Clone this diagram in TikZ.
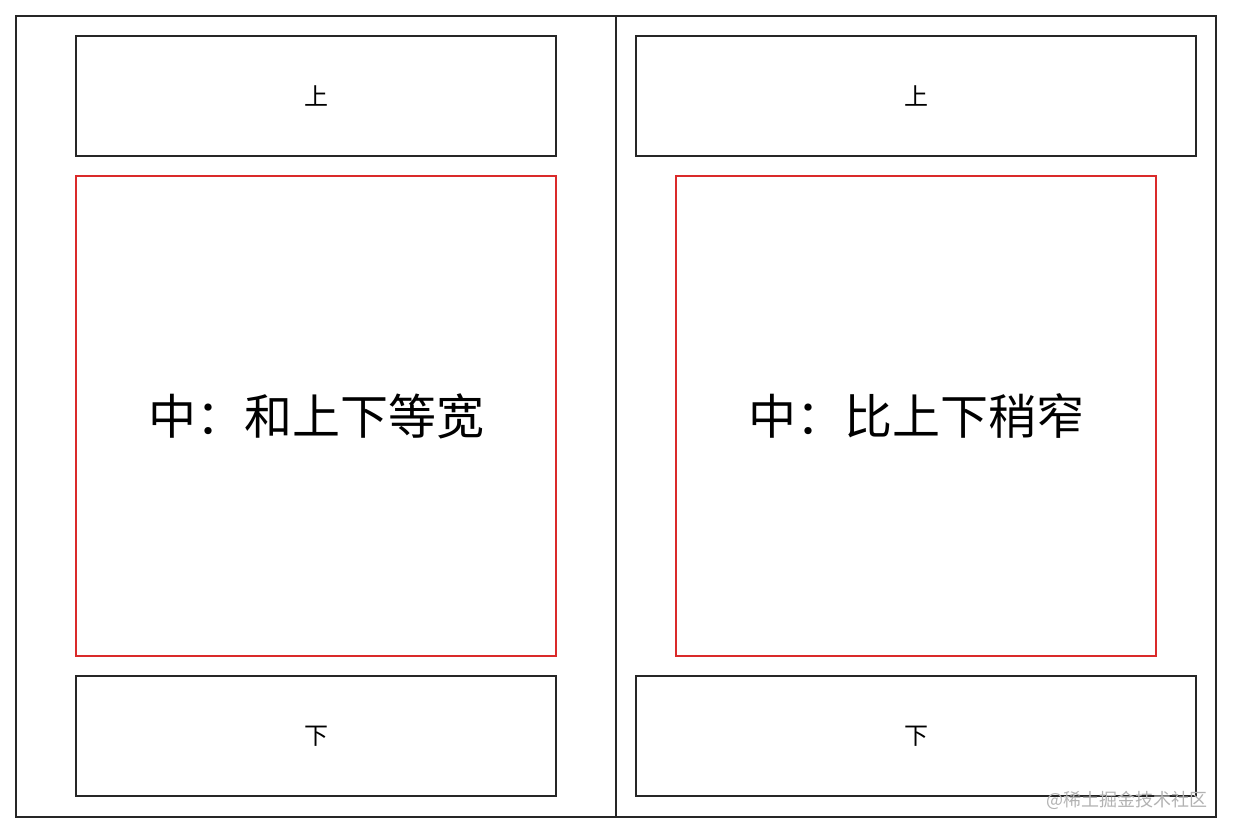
\documentclass[tikz,border=0pt]{standalone}
\usepackage{fontspec}
\setmainfont{Noto Sans CJK SC}
\usetikzlibrary{positioning}
\definecolor{midred}{RGB}{218,42,42}

\begin{document}
\begin{tikzpicture}[x=1pt,y=-1pt,
	frame/.style={draw=black!85,line width=1.6pt,outer sep=0pt,inner sep=0pt},
	part/.style={frame,minimum height=120pt,font=\fontsize{24}{28}\selectfont},
	middle/.style={frame,draw=midred,minimum width=480pt,minimum height=480pt,font=\fontsize{48}{56}\selectfont},
	node distance=20pt]
	\useasboundingbox (0,0) rectangle (1234,834);
	\node[frame,minimum width=600pt,minimum height=801pt] (left_page) at (316,416.5) {};
	\node[frame,minimum width=600pt,minimum height=801pt] (right_page) at (916,416.5) {};
	% left: same width
	\node[middle] (left_mid) at (316,416) {中：和上下等宽};
	\node[part,minimum width=480pt,above=of left_mid] (left_top) {上};
	\node[part,minimum width=480pt,below=of left_mid] (left_bottom) {下};
	% right: narrower
	\node[middle] (right_mid) at (916,416) {中：比上下稍窄};
	\node[part,minimum width=560pt,above=of right_mid] (right_top) {上};
	\node[part,minimum width=560pt,below=of right_mid] (right_bottom) {下};
	\node[text=black!30,font=\fontsize{18}{20}\selectfont,anchor=east] (mark) at (1211,800) {@稀土掘金技术社区};
\end{tikzpicture}
\end{document}
